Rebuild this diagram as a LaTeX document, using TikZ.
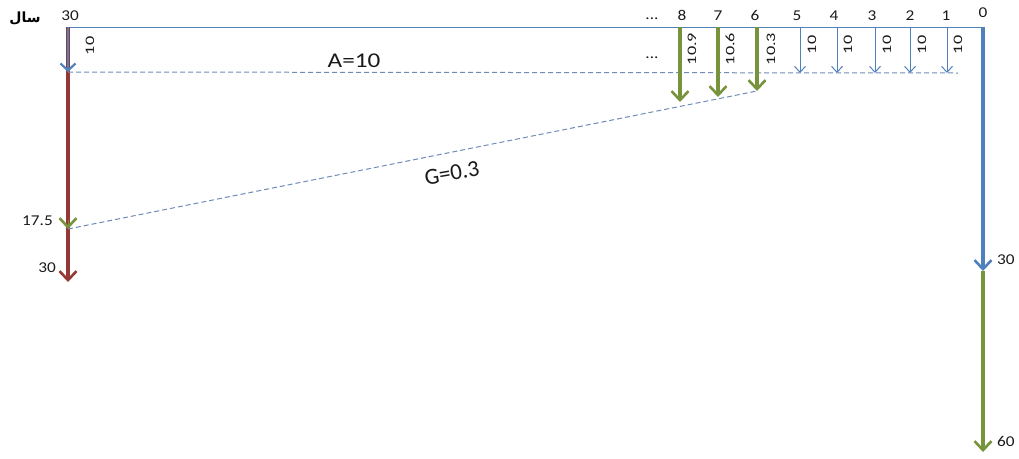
\documentclass[tikz,border=0pt]{standalone}
\usepackage{fontspec}
\setmainfont{Carlito}
\newfontfamily\arabicfont[Script=Arabic]{DejaVu Sans}
\TeXXeTstate=1
\usetikzlibrary{arrows.meta}
\definecolor{flowred}{HTML}{953735}
\definecolor{flowgreen}{HTML}{77933C}
\definecolor{flowblue}{HTML}{4F81BD}
\definecolor{guide}{HTML}{6F8BB8}
\definecolor{txt}{HTML}{1A1A1A}
% widened text, as set in the drawing
\newcommand{\widetext}[2][1.15]{\scalebox{#1}[1]{#2}}
\tikzset{
  thickflow/.style={line width=3.6pt,-{Straight Barb[length=9pt,width=17pt,line width=2.6pt]}},
  thinflow/.style={flowblue,line width=1pt,-{Straight Barb[length=6pt,width=11pt]}},
  guideline/.style={guide,line width=1pt,dash pattern=on 5pt off 3pt},
  yearlbl/.style={font=\fontsize{15}{15}\selectfont,text=txt,anchor=base,inner sep=0pt},
  amtlbl/.style={font=\fontsize{13}{13}\selectfont,text=txt,rotate=90,inner sep=0pt},
  sidelbl/.style={font=\fontsize{15}{15}\selectfont,text=txt,inner sep=0pt},
  biglbl/.style={font=\fontsize{21}{21}\selectfont,text=txt,inner sep=0pt}
}
\begin{document}
\begin{tikzpicture}[x=1pt,y=-1pt]
\useasboundingbox (0,0) rectangle (1019,458);

% time axis
\coordinate (tL) at (68,27);
\coordinate (tR) at (983,27);
\draw[flowblue,line width=1pt] (tL) -- (tR);

% year labels
\node[font=\arabicfont\bfseries\fontsize{14}{14}\selectfont,inner sep=0pt] (sal) at (25,18) {\beginR سال\endR};
\node[yearlbl] (y30) at (70,20) {\widetext{30}};
\node[yearlbl] (ydots) at (652,19) {\widetext{...}};
\node[yearlbl] (y8) at (682,20) {\widetext{8}};
\node[yearlbl] (y7) at (718,20) {\widetext{7}};
\node[yearlbl] (y6) at (755,20) {\widetext{6}};
\node[yearlbl] (y5) at (797,20) {\widetext{5}};
\node[yearlbl] (y4) at (834,20) {\widetext{4}};
\node[yearlbl] (y3) at (872,20) {\widetext{3}};
\node[yearlbl] (y2) at (910,20) {\widetext{2}};
\node[yearlbl] (y1) at (946,20) {\widetext{1}};
\node[yearlbl] (y0) at (983,17) {\widetext{0}};

% left column: present worth
\coordinate (lTop) at (68,27);
\coordinate (lA) at (68,72);
\coordinate (lG) at (68,229);
\coordinate (lGs) at (68,220);
\coordinate (lEnd) at (68,282);
\draw[thickflow,flowred] (lTop) -- (lEnd);
\draw[thickflow,flowgreen,line width=1pt] (lGs) -- (lG);
\draw[thinflow,line width=1.6pt,-{Straight Barb[length=7pt,width=15pt,line width=2.2pt]}] (lTop) -- (lA);
\node[amtlbl] (lAl) at (90,46) {\widetext[1.4]{10}};
\node[sidelbl,anchor=east] (l175) at (53,221) {\widetext{17.5}};
\node[sidelbl,anchor=east] (l30) at (56,268) {\widetext{30}};

% uniform series, A = 10
\foreach \n/\x/\lx in {5/800/812,4/837/848,3/875/887,2/910/922,1/947/958}{
  \coordinate (u\n) at (\x,27);
  \coordinate (ue\n) at (\x,73);
  \draw[thinflow] (u\n) -- (ue\n);
  \node[amtlbl] (ul\n) at (\lx,45) {\widetext[1.4]{10}};
}
\coordinate (aEnd) at (958,73);
\draw[guideline] (lA) -- (aEnd);
\node[biglbl] (Albl) at (354,61) {\widetext[1.2]{A=10}};
\node[yearlbl] (mdots) at (652,58) {\widetext{...}};

% gradient series
\foreach \n/\x/\y/\lx/\v in {8/680/102/692/10.9,7/718/97/730/10.6,6/757/91/771/10.3}{
  \coordinate (g\n) at (\x,27);
  \coordinate (ge\n) at (\x,\y);
  \draw[thickflow,flowgreen] (g\n) -- (ge\n);
  \node[amtlbl] (gl\n) at (\lx,49) {\widetext[1.4]{\v}};
}
\draw[guideline] (lG) -- (ge6);
\node[biglbl,font=\fontsize{23}{23}\selectfont,rotate=10] (Glbl) at (452,173) {G=0.3};

% right column: year-zero amounts
\coordinate (rTop) at (983,27);
\coordinate (rMid) at (983,271);
\coordinate (rEnd) at (983,452);
\draw[thickflow,flowgreen] (rMid) -- (rEnd);
\draw[thickflow,flowblue] (rTop) -- (rMid);
\node[sidelbl,anchor=west] (r30) at (997,260) {\widetext{30}};
\node[sidelbl,anchor=west] (r60) at (997,441) {\widetext{60}};
\end{tikzpicture}
\end{document}
